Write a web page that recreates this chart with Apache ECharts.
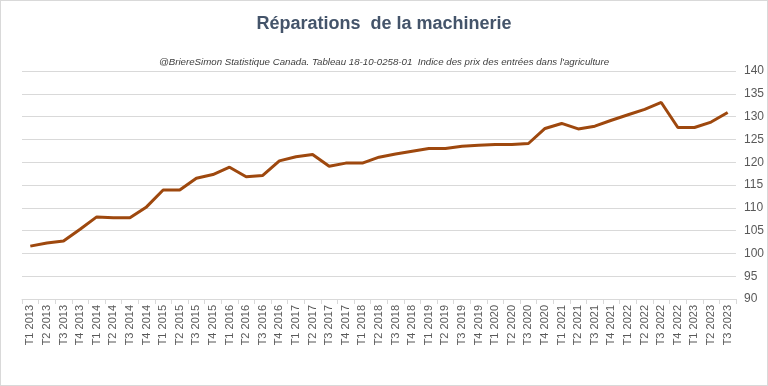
<!DOCTYPE html>
<html><head><meta charset="utf-8">
<script src="https://cdn.jsdelivr.net/npm/echarts@6/dist/echarts.min.js"></script>
<style>
html,body{margin:0;padding:0;background:#fff;}
#c{width:766px;height:384px;border:1px solid #d9d9d9;}
</style></head>
<body><div id="c"></div>
<script>
const categories = [];
const years = [2013,2014,2015,2016,2017,2018,2019,2020,2021,2022,2023];
years.forEach(y => { for (let q = 1; q <= 4; q++) { if (y === 2023 && q > 3) break; categories.push('T' + q + ' ' + y); } });
const values = [101.6,102.3,102.7,105.3,108.0,107.8,107.8,110.2,113.9,113.9,116.5,117.3,118.9,116.8,117.1,120.3,121.2,121.7,119.1,119.8,119.8,121.1,121.8,122.4,123.0,123.0,123.5,123.7,123.9,123.9,124.1,127.4,128.5,127.3,127.9,129.2,130.4,131.6,133.1,127.6,127.6,128.8,130.9];
const titleText = 'Réparations  de la machinerie';
const subtitleText = "@BriereSimon Statistique Canada. Tableau 18-10-0258-01  Indice des prix des entrées dans l'agriculture";

const chart = echarts.init(document.getElementById('c'));
chart.setOption({
  animation: false,
  title: [
    { text: titleText, left: 'center', top: 9, textStyle: { fontFamily: 'Liberation Sans, sans-serif', fontSize: 18, fontWeight: 'bold', color: '#44546a' } },
    { text: subtitleText, left: 'center', top: 51, textStyle: { fontFamily: 'Liberation Sans, sans-serif', fontSize: 9.7, fontStyle: 'italic', fontWeight: 'normal', color: '#404040' } }
  ],
  grid: { left: 21, right: 30, top: 70, bottom: 86 },
  xAxis: {
    type: 'category', data: categories, boundaryGap: true,
    axisLine: { lineStyle: { color: '#d9d9d9' } },
    axisTick: { show: true, length: 5, lineStyle: { color: '#d9d9d9' } },
    axisLabel: { rotate: 90, interval: 0, color: '#595959', fontSize: 11, fontFamily: 'Liberation Sans, sans-serif', margin: 6 }
  },
  yAxis: {
    type: 'value', position: 'right', min: 90, max: 140, interval: 5,
    axisLine: { show: false }, axisTick: { show: false },
    splitLine: { lineStyle: { color: '#d9d9d9' } },
    axisLabel: { color: '#595959', fontSize: 12, fontFamily: 'Liberation Sans, sans-serif', margin: 8 }
  },
  series: [{ type: 'line', data: values, showSymbol: false, lineStyle: { color: '#9e480e', width: 3 }, itemStyle: { color: '#9e480e' } }]
});
</script></body></html>
